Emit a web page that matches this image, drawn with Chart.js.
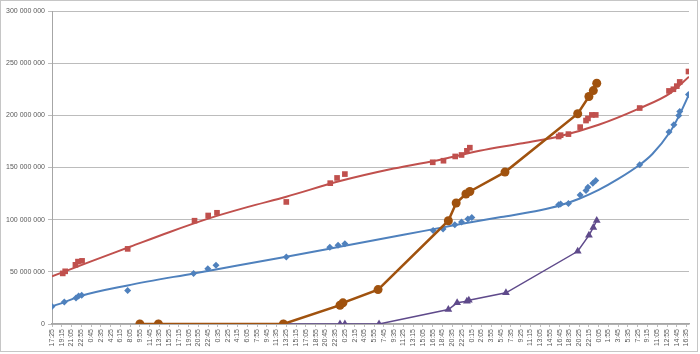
<!DOCTYPE html>
<html>
<head>
<meta charset="utf-8">
<script src="https://cdn.jsdelivr.net/npm/chart.js@4"></script>
<style>
  body { margin: 0; background: #fff; }
</style>
</head>
<body>
<canvas id="myChart" width="700" height="354"></canvas>
<script>
// x positions are in "tick index" units (one tick = 110 min), values in millions
const tickLabels = [
  "17:25", "19:15", "21:05", "22:55", "0:45", "2:35", "4:25", "6:15", "8:05", "9:55",
  "11:45", "13:35", "15:25", "17:15", "19:05", "20:55", "22:45", "0:35", "2:25", "4:15",
  "6:05", "7:55", "9:45", "11:35", "13:25", "15:15", "17:05", "18:55", "20:45", "22:35",
  "0:25", "2:15", "4:05", "5:55", "7:45", "9:35", "11:25", "13:15", "15:05", "16:55",
  "18:45", "20:35", "22:25", "0:15", "2:05", "3:55", "5:45", "7:35", "9:25", "11:15",
  "13:05", "14:55", "16:45", "18:35", "20:25", "22:15", "0:05", "1:55", "3:45", "5:35",
  "7:25", "9:15", "11:05", "12:55", "14:45", "16:35",
];
const yMax = 300;
const yStep = 50;

const blueX = [0, 1.26, 2.46, 2.73, 3.04, 7.75, 14.5, 15.96, 16.8, 24, 28.46, 29.3, 30,
  39.04, 40.06, 41.26, 41.95, 42.6, 43, 51.9, 52.1, 52.9, 54.1, 54.7, 54.9, 55.4, 55.7,
  60.2, 63.2, 63.7, 64.2, 64.3, 65.2];
const blueY = [16.7, 21, 25, 26.8, 27.6, 32, 48.3, 53, 56.3, 64.3, 73.5, 75.4, 77,
  89.5, 91, 95.2, 97.8, 100.7, 102, 114.4, 115, 115.6, 123.6, 128, 131, 135, 137.6,
  152.6, 184, 191, 199.8, 203.6, 220];
const blueTrendX = [0, 1.3, 3, 7.75, 14.5, 19, 24, 30, 36, 42, 46, 50, 52, 54, 56, 58, 60.2, 61.5, 63.3, 64.2, 65.25];
const blueTrendY = [17, 21, 27, 37, 48.5, 56, 64.5, 75, 85.5, 96, 102.5, 109, 113.5, 120, 128.5, 139, 152.6, 163, 184, 199, 220];

const redX = [1.1, 1.35, 2.4, 2.66, 3.08, 7.75, 14.6, 16, 16.9, 24, 28.5, 29.2, 30,
  39, 40.1, 41.3, 41.95, 42.5, 42.8, 51.9, 52.1, 52.9, 54.1, 54.7, 54.9, 55.3, 55.7,
  60.2, 63.2, 63.65, 64, 64.3, 65.2];
const redY = [48.5, 50.5, 56.7, 59.8, 60.5, 72, 99, 104, 106.6, 117, 135, 140, 143.7,
  155, 156.5, 160.6, 162, 166, 169, 179.7, 181, 182, 188.7, 195, 197, 200.4, 200.4,
  207, 223.4, 225, 228, 232, 242];
const redTrendX = [0, 4, 8, 12, 16, 20, 24, 29.5, 35, 40, 43.8, 48, 52, 56, 60, 63.3, 65.25];
const redTrendY = [45.7, 60, 74, 88, 101, 112, 122, 137, 149, 158, 166, 173, 180, 191, 206, 221, 237];

const orangeX = [9, 10.9, 23.7, 29.5, 29.8, 33.4, 40.6, 41.4, 42.4, 42.8, 46.4, 53.85, 55, 55.45, 55.8];
const orangeY = [0, 0, 0, 18, 20.3, 33, 99, 116, 124.6, 127, 145.6, 201.5, 218, 223.7, 230.8];

const purpleX = [9, 10.9, 23.7, 29.5, 30, 33.5, 40.6, 41.5, 42.5, 42.7, 46.5, 53.85, 55, 55.45, 55.8];
const purpleY = [0, 0, 0, 0, 0, 0, 13.9, 20.3, 21.8, 22.8, 29.9, 69.7, 85, 92.6, 99.3];

const toPoints = (xs, ys) => xs.map((x, i) => ({ x: x, y: ys[i] }));

const formatMillions = (v) =>
  String(Math.round(v * 1000000)).replace(/\B(?=(\d{3})+(?!\d))/g, " ");

const frame = {
  id: "frame",
  afterDraw(chart) {
    const ctx = chart.ctx;
    ctx.save();
    ctx.strokeStyle = "#c6c6c6";
    ctx.lineWidth = 1;
    ctx.strokeRect(0.5, 0.5, 697, 351);
    ctx.restore();
  },
};

const ctx = document.getElementById("myChart").getContext("2d");
const myChart = new Chart(ctx, {
  type: "scatter",
  data: {
    datasets: [
      {
        label: "orange",
        data: toPoints(orangeX, orangeY),
        showLine: true,
        borderColor: "#a0520e",
        backgroundColor: "#a0520e",
        borderWidth: 2.5,
        pointStyle: "circle",
        pointRadius: 4.5,
        pointBorderWidth: 0,
      },
      {
        label: "purple",
        data: toPoints(purpleX, purpleY),
        showLine: true,
        borderColor: "#5f4a8b",
        backgroundColor: "#5f4a8b",
        borderWidth: 1.5,
        pointStyle: "triangle",
        pointRadius: 4.5,
        pointBorderWidth: 0,
      },
      {
        label: "blue",
        data: toPoints(blueX, blueY),
        showLine: false,
        backgroundColor: "#4f81bd",
        borderColor: "#4f81bd",
        pointStyle: "rectRot",
        pointRadius: 3.5,
        pointBorderWidth: 0,
      },
      {
        label: "blue trend",
        data: toPoints(blueTrendX, blueTrendY),
        showLine: true,
        borderColor: "#4f81bd",
        borderWidth: 2,
        pointRadius: 0,
        cubicInterpolationMode: "monotone",
      },
      {
        label: "red",
        data: toPoints(redX, redY),
        showLine: false,
        backgroundColor: "#c0504d",
        borderColor: "#c0504d",
        pointStyle: "rect",
        pointRadius: 4,
        pointBorderWidth: 0,
      },
      {
        label: "red trend",
        data: toPoints(redTrendX, redTrendY),
        showLine: true,
        borderColor: "#c0504d",
        borderWidth: 2,
        pointRadius: 0,
        cubicInterpolationMode: "monotone",
      },
    ],
  },
  options: {
    responsive: false,
    animation: false,
    layout: { padding: { top: 11, right: 11, left: 0, bottom: 0 } },
    plugins: {
      legend: { display: false },
      tooltip: { enabled: false },
    },
    scales: {
      x: {
        type: "linear",
        min: 0,
        max: 65.25,
        afterBuildTicks: (scale) => {
          scale.ticks = tickLabels.map((_, i) => ({ value: i }));
        },
        afterFit: (scale) => {
          scale.height = 30;
        },
        ticks: {
          autoSkip: false,
          maxRotation: 90,
          minRotation: 90,
          padding: 2,
          color: "#595959",
          font: { family: "Liberation Sans", size: 7 },
          callback: (v) => tickLabels[Math.round(v)],
        },
        grid: {
          drawOnChartArea: false,
          drawTicks: true,
          tickLength: 3,
          color: "#bdbdbd",
        },
        border: { color: "#a6a6a6", width: 1.5 },
      },
      y: {
        type: "linear",
        min: 0,
        max: yMax,
        afterFit: (scale) => {
          scale.width = 52;
        },
        ticks: {
          stepSize: yStep,
          padding: 3,
          color: "#595959",
          font: { family: "Liberation Sans", size: 7 },
          callback: (v) => formatMillions(v),
        },
        grid: {
          display: true,
          drawOnChartArea: true,
          color: "#bcbcbc",
          lineWidth: 1,
          tickLength: 4,
        },
        border: { display: true, color: "#a6a6a6", width: 1 },
      },
    },
  },
  plugins: [frame],
});
</script>
</body>
</html>
